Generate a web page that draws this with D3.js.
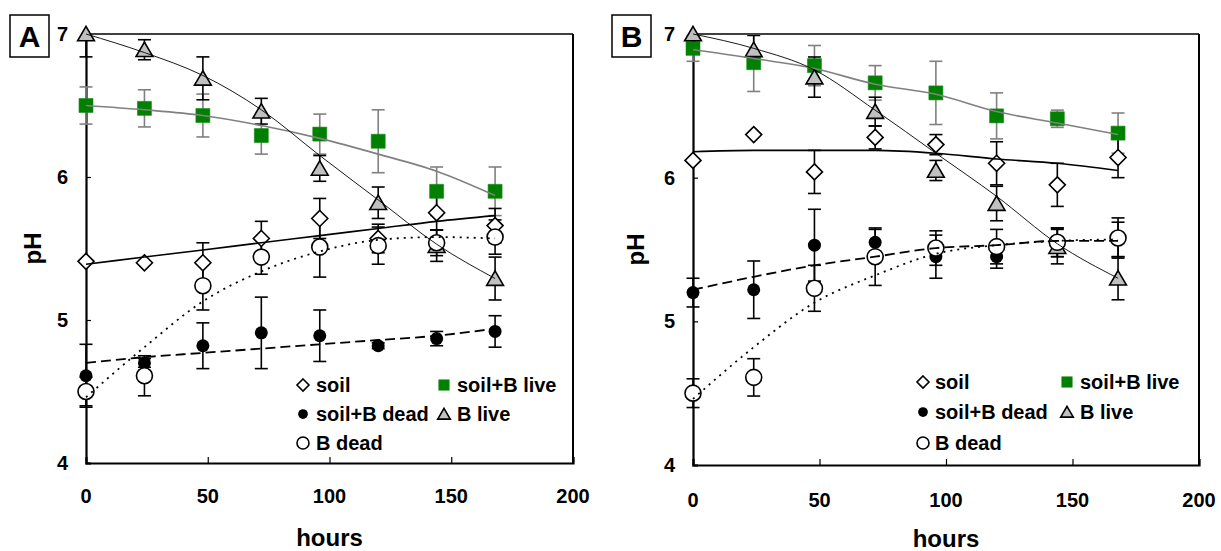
<!DOCTYPE html>
<html><head><meta charset="utf-8">
<script src="https://cdn.jsdelivr.net/npm/d3@7/dist/d3.min.js"></script>
<style>
body{margin:0;background:#fff;}
svg text{font-family:"Liberation Sans",Arial,sans-serif;font-weight:bold;fill:#000;}
</style></head>
<body><svg id="chart" width="1221" height="551"></svg>
<script>
// ---------- DATA ----------
const hours = [0, 24, 48, 72, 96, 120, 144, 168];
const xTicks = [0, 50, 100, 150, 200];
const yTicks = [4, 5, 6, 7];
const seriesNames = ["soil", "soil+B live", "soil+B dead", "B live", "B dead"];

// Panel A
const soilA = [5.41, 5.40, 5.40, 5.57, 5.71, 5.57, 5.75, 5.66];
const soilErrA = [0, 0, 0.14, 0.12, 0.14, 0.10, 0.12, 0.12];
const soilLiveA = [6.50, 6.48, 6.43, 6.29, 6.30, 6.25, 5.90, 5.90];
const soilLiveErrA = [0.13, 0.13, 0.15, 0.13, 0.14, 0.22, 0.17, 0.17];
const soilDeadA = [4.61, 4.70, 4.82, 4.91, 4.89, 4.82, 4.87, 4.92];
const soilDeadErrA = [0.22, 0.03, 0.16, 0.25, 0.18, 0.02, 0.05, 0.11];
const bLiveA = [7.00, 6.89, 6.69, 6.46, 6.06, 5.82, 5.52, 5.29];
const bLiveErrA = [0.16, 0.07, 0.15, 0.09, 0.09, 0.11, 0.11, 0.15];
const bDeadA = [4.50, 4.61, 5.24, 5.44, 5.51, 5.52, 5.54, 5.58];
const bDeadErrA = [0.10, 0.14, 0.17, 0.12, 0.21, 0.13, 0.09, 0.12];
// trend lines A
const soilFitA = [5.39, 5.44, 5.49, 5.54, 5.59, 5.64, 5.69, 5.73];
const soilLiveFitA = [6.50, 6.47, 6.43, 6.36, 6.27, 6.16, 6.04, 5.87];
const soilDeadFitA = [4.70, 4.74, 4.77, 4.80, 4.83, 4.86, 4.89, 4.94];
const bLiveFitA = [7.00, 6.87, 6.71, 6.47, 6.15, 5.84, 5.53, 5.29];
const bDeadFitA = [4.46, 4.81, 5.13, 5.34, 5.48, 5.56, 5.58, 5.57];

// Panel B
const soilB = [6.12, 6.30, 6.04, 6.28, 6.23, 6.10, 5.95, 6.14];
const soilErrB = [0, 0, 0.15, 0.08, 0.07, 0.15, 0.15, 0.14];
const soilLiveB = [6.90, 6.80, 6.78, 6.66, 6.59, 6.43, 6.41, 6.31];
const soilLiveErrB = [0.09, 0.20, 0.14, 0.12, 0.22, 0.16, 0.06, 0.14];
const soilDeadB = [5.20, 5.22, 5.53, 5.55, 5.45, 5.45, 5.55, 5.57];
const soilDeadErrB = [0.10, 0.20, 0.25, 0.09, 0.15, 0.08, 0.10, 0.12];
const bLiveB = [7.00, 6.89, 6.70, 6.46, 6.05, 5.82, 5.52, 5.30];
const bLiveErrB = [0.10, 0.10, 0.14, 0.10, 0.07, 0.12, 0.12, 0.15];
const bDeadB = [4.50, 4.61, 5.23, 5.45, 5.51, 5.52, 5.55, 5.58];
const bDeadErrB = [0.10, 0.13, 0.16, 0.20, 0.12, 0.12, 0.10, 0.14];
// trend lines B
const soilFitB = [6.18, 6.19, 6.19, 6.19, 6.17, 6.13, 6.10, 6.05];
const soilLiveFitB = [6.89, 6.83, 6.76, 6.65, 6.58, 6.46, 6.38, 6.30];
const soilDeadFitB = [5.22, 5.31, 5.39, 5.45, 5.51, 5.53, 5.56, 5.56];
const bLiveFitB = [7.00, 6.90, 6.75, 6.47, 6.17, 5.87, 5.54, 5.30];
const bDeadFitB = [4.46, 4.82, 5.13, 5.32, 5.47, 5.53, 5.56, 5.57];

// ---------- DRAWING ----------
const svg = d3.select("#chart");
const defs = svg.append("defs");

const markerPath = {
  diamond: s => `M0,${-s}L${s},0L0,${s}L${-s},0Z`,
  triangle: s => `M0,${-s*0.95}L${s*1.05},${s*0.85}L${-s*1.05},${s*0.85}Z`,
  square: s => `M${-s},${-s}H${s}V${s}H${-s}Z`
};

function drawMarker(g, type, x, y, scale) {
  const k = scale || 1;
  if (type === "diamond") {
    g.append("path").attr("d", markerPath.diamond(8 * k)).attr("transform", `translate(${x},${y})`)
      .attr("fill", "#fff").attr("stroke", "#000").attr("stroke-width", 1.6);
  } else if (type === "square") {
    g.append("path").attr("d", markerPath.square(7 * k)).attr("transform", `translate(${x},${y})`)
      .attr("fill", "#008000").attr("stroke", "#1a8a1a").attr("stroke-width", 0.6);
  } else if (type === "filled") {
    g.append("circle").attr("cx", x).attr("cy", y).attr("r", 6.5 * k).attr("fill", "#000");
  } else if (type === "open") {
    g.append("circle").attr("cx", x).attr("cy", y).attr("r", 8 * k)
      .attr("fill", "#fff").attr("stroke", "#000").attr("stroke-width", 1.6);
  } else if (type === "triangle") {
    g.append("path").attr("d", markerPath.triangle(8 * k)).attr("transform", `translate(${x},${y})`)
      .attr("fill", "#c0c0c0").attr("stroke", "#000").attr("stroke-width", 1.6);
  }
}

function drawPanel(cfg) {
  const x = d3.scaleLinear().domain([0, 200]).range([cfg.left, cfg.right]);
  const y = d3.scaleLinear().domain([4, 7]).range([cfg.bottom, cfg.top]);
  const g = svg.append("g");

  const clipId = "clip" + cfg.letter;
  defs.append("clipPath").attr("id", clipId).append("rect")
    .attr("x", cfg.left - 20).attr("y", cfg.top).attr("width", cfg.right - cfg.left + 40)
    .attr("height", cfg.bottom - cfg.top);

  // frame (top & right)
  g.append("line").attr("x1", cfg.left).attr("x2", cfg.right).attr("y1", cfg.top).attr("y2", cfg.top)
    .attr("stroke", "#000").attr("stroke-width", 1.5);
  g.append("line").attr("x1", cfg.right).attr("x2", cfg.right).attr("y1", cfg.top).attr("y2", cfg.bottom)
    .attr("stroke", "#000").attr("stroke-width", 2);

  // axes with inward ticks
  const xAxis = d3.axisTop(x).tickValues(xTicks).tickSize(6).tickFormat("");
  const gx = g.append("g").attr("transform", `translate(0,${cfg.bottom})`).call(xAxis);
  gx.select(".domain").attr("stroke-width", 2.2);
  gx.selectAll(".tick line").attr("stroke-width", 1.2);
  const yAxis = d3.axisRight(y).tickValues(yTicks).tickSize(5).tickFormat("");
  const gy = g.append("g").attr("transform", `translate(${cfg.left},0)`).call(yAxis);
  gy.select(".domain").attr("stroke-width", 2.2);
  gy.selectAll(".tick line").attr("stroke-width", 1.2);

  // tick labels
  g.selectAll(".xl").data(xTicks).enter().append("text")
    .attr("x", d => x(d)).attr("y", cfg.bottom + cfg.xLabOff)
    .attr("text-anchor", "middle").attr("font-size", 20).text(d => d);
  g.selectAll(".yl").data(yTicks).enter().append("text")
    .attr("x", cfg.left - 18).attr("y", d => y(d) + 7)
    .attr("text-anchor", "end").attr("font-size", 20).text(d => d);

  // axis titles
  g.append("text").attr("x", (cfg.left + cfg.right) / 2).attr("y", cfg.hoursY)
    .attr("text-anchor", "middle").attr("font-size", 24).text("hours");
  g.append("text").attr("transform", `translate(${cfg.phX},${(cfg.top + cfg.bottom) / 2}) rotate(-90)`)
    .attr("text-anchor", "middle").attr("font-size", 24).text("pH");

  // panel letter box
  g.append("rect").attr("x", cfg.boxX).attr("y", 15).attr("width", 39).attr("height", 42)
    .attr("fill", "#fff").attr("stroke", "#000").attr("stroke-width", 1.5);
  g.append("text").attr("x", cfg.boxX + 19.5).attr("y", 47).attr("text-anchor", "middle")
    .attr("font-size", 30).text(cfg.letter);

  const series = cfg.series;

  // error bars (clipped to plot area)
  series.forEach(s => {
    const eg = g.append("g").attr("clip-path", `url(#${clipId})`)
      .attr("stroke", s.errColor).attr("stroke-width", 1.6);
    hours.forEach((h, i) => {
      const e = s.err[i];
      if (!e) return;
      const cx = x(h), y1 = y(s.vals[i] + e), y2 = y(s.vals[i] - e);
      eg.append("line").attr("x1", cx).attr("x2", cx).attr("y1", y1).attr("y2", y2);
      [y1, y2].forEach(yy => eg.append("line").attr("x1", cx - 6.5).attr("x2", cx + 6.5).attr("y1", yy).attr("y2", yy));
    });
  });

  // markers
  series.forEach(s => {
    hours.forEach((h, i) => drawMarker(g, s.marker, x(h), y(s.vals[i])));
  });

  // trend lines
  series.forEach(s => {
    const line = d3.line().x((d, i) => x(hours[i])).y(d => y(d)).curve(d3.curveMonotoneX);
    g.append("path").datum(s.fit).attr("d", line).attr("fill", "none")
      .attr("stroke", s.lineColor).attr("stroke-width", s.lineWidth)
      .attr("stroke-dasharray", s.dash || null);
  });

  // legend
  const L = cfg.legend;
  const rows = [
    {m: "diamond", label: seriesNames[0], mx: L.x1, tx: L.t1, yy: L.rows[0]},
    {m: "square", label: seriesNames[1], mx: L.x2, tx: L.t2, yy: L.rows[0]},
    {m: "filled", label: seriesNames[2], mx: L.x1, tx: L.t1, yy: L.rows[1]},
    {m: "triangle", label: seriesNames[3], mx: L.x2, tx: L.t2, yy: L.rows[1]},
    {m: "open", label: seriesNames[4], mx: L.x1, tx: L.t1, yy: L.rows[2]}
  ];
  rows.forEach(r => {
    drawMarker(g, r.m, r.mx, r.yy, 0.75);
    g.append("text").attr("x", r.tx).attr("y", r.yy + 7).attr("font-size", 20).text(r.label);
  });
}

function makeSeries(soil, soilE, soilF, live, liveE, liveF, dead, deadE, deadF, bl, blE, blF, bd, bdE, bdF) {
  return [
    {marker: "square", vals: live, err: liveE, fit: liveF, errColor: "#808080", lineColor: "#808080", lineWidth: 1.6},
    {marker: "triangle", vals: bl, err: blE, fit: blF, errColor: "#000", lineColor: "#000", lineWidth: 0.9},
    {marker: "diamond", vals: soil, err: soilE, fit: soilF, errColor: "#000", lineColor: "#000", lineWidth: 1.6},
    {marker: "filled", vals: dead, err: deadE, fit: deadF, errColor: "#000", lineColor: "#000", lineWidth: 1.8, dash: "10,5"},
    {marker: "open", vals: bd, err: bdE, fit: bdF, errColor: "#000", lineColor: "#000", lineWidth: 1.8, dash: "2,5"}
  ];
}

drawPanel({
  letter: "A", boxX: 10, left: 86, right: 573, top: 34, bottom: 463,
  xLabOff: 40, hoursY: 546, phX: 41,
  legend: {x1: 303, t1: 316, x2: 444, t2: 457, rows: [385, 414, 443]},
  series: makeSeries(soilA, soilErrA, soilFitA, soilLiveA, soilLiveErrA, soilLiveFitA,
    soilDeadA, soilDeadErrA, soilDeadFitA, bLiveA, bLiveErrA, bLiveFitA, bDeadA, bDeadErrA, bDeadFitA)
});
drawPanel({
  letter: "B", boxX: 612, left: 693, right: 1199, top: 34, bottom: 465,
  xLabOff: 42, hoursY: 547, phX: 644,
  legend: {x1: 923, t1: 935, x2: 1067, t2: 1080, rows: [382, 412, 443]},
  series: makeSeries(soilB, soilErrB, soilFitB, soilLiveB, soilLiveErrB, soilLiveFitB,
    soilDeadB, soilDeadErrB, soilDeadFitB, bLiveB, bLiveErrB, bLiveFitB, bDeadB, bDeadErrB, bDeadFitB)
});
</script></body></html>
